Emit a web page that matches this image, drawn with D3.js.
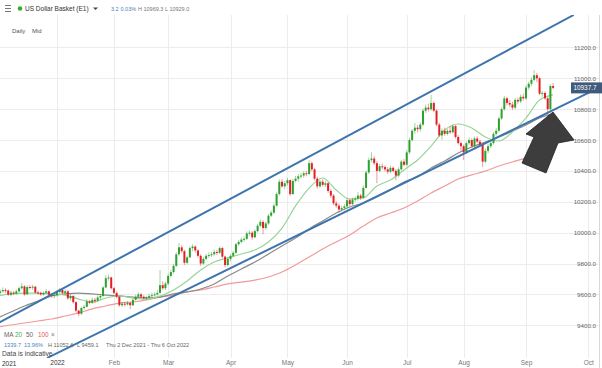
<!DOCTYPE html>
<html>
<head>
<meta charset="utf-8">
<script src="https://d3js.org/d3.v7.min.js"></script>
<style>
body { margin: 0; background: #fff; }
svg { display: block; font-family: "Liberation Sans", Arial, sans-serif; }
</style>
</head>
<body>
<div id="chart"></div>
<script>
// Daily candles, one per weekday starting Thu 2 Dec 2021 (index 0)
// open of each candle = previous close
var firstOpen = 9598;

var closes = [
  9610, 9620, 9628, 9625, 9598, 9612, 9605, 9620, 9640, 9652,
  9600, 9648, 9645, 9650, 9612, 9610, 9600, 9610, 9620, 9598,
  9590, 9595, 9615, 9630, 9610, 9620, 9575, 9590, 9550, 9495,
  9475, 9512, 9520, 9555, 9545, 9565, 9560, 9580, 9590, 9645,
  9705, 9710, 9640, 9610, 9585, 9530, 9540, 9535, 9545, 9530,
  9565, 9585, 9600, 9585, 9575, 9580, 9590, 9595, 9600, 9610,
  9660, 9640, 9670, 9720, 9745, 9785, 9860, 9905, 9880, 9805,
  9840, 9900, 9910, 9885, 9850, 9800, 9830, 9850, 9855, 9860,
  9875, 9870, 9900, 9845, 9790, 9830, 9850, 9870, 9925, 9940,
  9955, 9960, 9995, 10000, 9970, 10010, 10045, 10070, 10030, 10060,
  10110, 10130, 10175, 10250, 10330, 10300, 10320, 10340, 10250, 10335,
  10350, 10365, 10370, 10385, 10380, 10450, 10410, 10350, 10300, 10330,
  10310, 10320, 10270, 10240, 10190, 10175, 10150, 10160, 10170, 10210,
  10185, 10215, 10220, 10240, 10225, 10290, 10390, 10470, 10480, 10450,
  10400, 10430, 10425, 10410, 10395, 10420, 10400, 10370, 10410, 10460,
  10440, 10520, 10600, 10660, 10680, 10670, 10700, 10790, 10810, 10800,
  10840, 10790, 10700, 10630, 10660, 10640, 10660, 10650, 10690, 10620,
  10580, 10560, 10520, 10580, 10600, 10560, 10610, 10590, 10570, 10460,
  10530, 10560, 10580, 10640, 10660, 10740, 10800, 10870, 10840, 10830,
  10810, 10860, 10850, 10880, 10870, 10940, 10965, 10990, 11020, 11000,
  10900, 10905, 10870, 10800, 10950, 10937.7
];

var highs = [
  9628, 9635, 9645, 9640, 9632, 9625, 9622, 9632, 9650, 9674,
  9660, 9658, 9660, 9662, 9655, 9625, 9618, 9620, 9635, 9625,
  9605, 9610, 9628, 9642, 9640, 9632, 9628, 9605, 9595, 9555,
  9500, 9520, 9532, 9570, 9565, 9580, 9578, 9595, 9605, 9655,
  9725, 9728, 9715, 9648, 9620, 9590, 9552, 9550, 9558, 9552,
  9575, 9598, 9615, 9610, 9595, 9592, 9605, 9612, 9615, 9628,
  9758, 9685, 9682, 9735, 9760, 9798, 9872, 9933, 9918, 9890,
  9852, 9912, 9925, 9918, 9892, 9860, 9842, 9862, 9872, 9875,
  9890, 9888, 9912, 9908, 9852, 9842, 9862, 9882, 9935, 9952,
  9968, 9975, 10008, 10015, 10010, 10022, 10058, 10085, 10080, 10072,
  10122, 10145, 10188, 10262, 10345, 10348, 10335, 10355, 10345, 10348,
  10368, 10380, 10388, 10398, 10400, 10470, 10462, 10420, 10362, 10342,
  10345, 10335, 10328, 10282, 10250, 10205, 10190, 10175, 10185, 10225,
  10222, 10228, 10235, 10262, 10252, 10305, 10402, 10485, 10520, 10495,
  10462, 10445, 10448, 10438, 10425, 10435, 10430, 10412, 10422, 10472,
  10478, 10535, 10615, 10672, 10710, 10698, 10715, 10805, 10830, 10835,
  10892, 10850, 10800, 10712, 10675, 10680, 10672, 10690, 10702, 10698,
  10632, 10590, 10570, 10592, 10618, 10612, 10622, 10625, 10602, 10580,
  10545, 10575, 10598, 10652, 10678, 10752, 10812, 10885, 10880, 10858,
  10848, 10872, 10875, 10895, 10900, 10955, 10978, 11005, 11052.6, 11035,
  11010, 10920, 10915, 10880, 10962, 10969.3
];

var lows = [
  9590, 9600, 9612, 9610, 9588, 9590, 9595, 9598, 9612, 9632,
  9592, 9598, 9632, 9630, 9605, 9600, 9592, 9592, 9602, 9590,
  9578, 9575, 9585, 9605, 9600, 9598, 9565, 9560, 9540, 9485,
  9459.1, 9468, 9500, 9515, 9535, 9538, 9545, 9550, 9565, 9585,
  9640, 9690, 9632, 9600, 9575, 9520, 9518, 9522, 9528, 9505,
  9525, 9560, 9578, 9575, 9568, 9565, 9572, 9580, 9585, 9592,
  9605, 9630, 9628, 9660, 9710, 9735, 9778, 9850, 9868, 9790,
  9795, 9835, 9880, 9870, 9838, 9785, 9792, 9820, 9838, 9842,
  9850, 9855, 9862, 9835, 9775, 9780, 9815, 9840, 9862, 9915,
  9930, 9942, 9952, 9982, 9955, 9965, 10000, 10035, 9990, 10020,
  10050, 10100, 10120, 10168, 10240, 10290, 10280, 10305, 10238, 10245,
  10325, 10330, 10350, 10355, 10365, 10372, 10398, 10338, 10285, 10290,
  10298, 10295, 10258, 10225, 10178, 10160, 10130, 10138, 10145, 10160,
  10172, 10178, 10200, 10208, 10212, 10220, 10285, 10380, 10455, 10438,
  10320, 10390, 10410, 10398, 10380, 10385, 10390, 10340, 10358, 10400,
  10430, 10432, 10510, 10590, 10640, 10650, 10655, 10690, 10775, 10785,
  10790, 10780, 10688, 10620, 10600, 10628, 10630, 10640, 10642, 10608,
  10570, 10530, 10471, 10510, 10570, 10550, 10548, 10580, 10555, 10425,
  10450, 10515, 10548, 10570, 10628, 10650, 10730, 10790, 10825, 10812,
  10795, 10800, 10835, 10840, 10855, 10860, 10925, 10948, 10980, 10975,
  10890, 10880, 10860, 10762, 10790, 10929.0
];

// Moving averages every 5 candles
var maIdx = [0, 5, 10, 15, 20, 25, 30, 35, 40, 45, 50, 55, 60, 65, 70, 75, 80, 85, 90, 95,
  100, 105, 110, 115, 120, 125, 130, 135, 140, 145, 150, 155, 160, 165, 170, 175, 180, 185, 190, 195,
  200, 205];
var ma20 = [9590, 9603, 9609, 9609, 9603, 9596, 9570, 9551, 9577, 9590, 9577, 9570, 9590, 9629,
  9687, 9758, 9810, 9836, 9862, 9888, 9940, 10030, 10173, 10289, 10354, 10276, 10218, 10225,
  10302, 10341, 10406, 10471, 10561, 10665, 10704, 10678, 10620, 10594, 10652, 10743, 10859, 10892];
var ma50 = [9447, 9486, 9525, 9557, 9590, 9603, 9609, 9603, 9596, 9590, 9583, 9577, 9583, 9603,
  9616, 9635, 9668, 9719, 9765, 9810, 9862, 9914, 9965, 10024, 10076, 10127, 10166, 10192,
  10231, 10276, 10328, 10361, 10419, 10464, 10516, 10555, 10587, 10620, 10658, 10697, 10743, 10769];
var ma100 = [9389, 9402, 9415, 9428, 9441, 9460, 9480, 9506, 9525, 9544, 9551, 9564, 9583, 9596,
  9616, 9629, 9648, 9668, 9680, 9693, 9713, 9745, 9791, 9842, 9894, 9940, 9985, 10043,
  10095, 10127, 10160, 10205, 10257, 10302, 10348, 10374, 10399, 10432, 10458, 10484, 10516, 10535];

// Channel lines drawn on the chart: [candle index, price]
var upperChannel = [[0, 9411], [212.6, 11410]];
var lowerChannel = [[18.3, 9188], [222, 10940]];

// Axis ticks
var yTicks = [9400, 9600, 9800, 10000, 10200, 10400, 10600, 10800, 11000, 11200];
var monthIdx = [22, 43, 63, 86, 107, 129, 151, 172, 195, 218];
var monthLabels = ["2022", "Feb", "Mar", "Apr", "May", "Jun", "Jul", "Aug", "Sep", "Oct"];
var lastPrice = 10937.7;

// Chart area
var svgWidth = 602;
var svgHeight = 368;
var plotTop = 15;
var plotBottom = 358;
var plotRight = 599;

var upColor = "#2ea02e";
var downColor = "#e21f26";

var svg = d3.select("#chart")
  .append("svg")
  .attr("width", svgWidth)
  .attr("height", svgHeight);

svg.append("defs").append("clipPath")
  .attr("id", "plotclip")
  .append("rect")
  .attr("x", 0)
  .attr("y", plotTop)
  .attr("width", plotRight)
  .attr("height", plotBottom - plotTop);

var xScale = d3.scaleLinear()
  .domain([0, 220])
  .range([-2.64, -2.64 + 220 * 2.711]);

var yScale = d3.scaleLinear()
  .domain([9400, 11200])
  .range([325.3, 47.4]);

// Grid lines
var grid = svg.append("g");
grid.selectAll(".hgrid")
  .data(yTicks).enter()
  .append("line")
  .attr("x1", 0)
  .attr("x2", plotRight)
  .attr("y1", d => Math.round(yScale(d)) + 0.5)
  .attr("y2", d => Math.round(yScale(d)) + 0.5)
  .attr("stroke", "#ececec");

grid.selectAll(".vgrid")
  .data(monthIdx).enter()
  .append("line")
  .attr("x1", d => Math.round(xScale(d)) + 0.5)
  .attr("x2", d => Math.round(xScale(d)) + 0.5)
  .attr("y1", plotTop)
  .attr("y2", plotBottom)
  .attr("stroke", "#ececec");

// right border
svg.append("line")
  .attr("x1", plotRight + 0.5).attr("x2", plotRight + 0.5)
  .attr("y1", plotTop).attr("y2", svgHeight)
  .attr("stroke", "#d8d8d8");

var plot = svg.append("g").attr("clip-path", "url(#plotclip)");

// Moving averages
var maLine = d3.line()
  .x(d => xScale(d[0]))
  .y(d => yScale(d[1]))
  .curve(d3.curveMonotoneX);

function drawMA(values, color, width) {
  plot.append("path")
    .datum(maIdx.map((d, i) => [d, values[i]]))
    .attr("d", maLine)
    .attr("fill", "none")
    .attr("stroke", color)
    .attr("stroke-width", width);
}
drawMA(ma100, "#f19a9a", 1.2);
drawMA(ma50, "#8a8a8a", 1.2);
drawMA(ma20, "#98d498", 1.2);

// Candles
var data = closes.map(function(c, i) {
  return {
    i: i,
    open: i === 0 ? firstOpen : closes[i - 1],
    high: highs[i],
    low: lows[i],
    close: c
  };
});

var candle = plot.selectAll(".candle")
  .data(data).enter()
  .append("g");

candle.append("line")
  .attr("x1", d => xScale(d.i))
  .attr("x2", d => xScale(d.i))
  .attr("y1", d => yScale(d.high))
  .attr("y2", d => yScale(d.low))
  .attr("stroke", d => d.close >= d.open ? upColor : downColor)
  .attr("stroke-opacity", 0.45)
  .attr("stroke-width", 1);

candle.append("rect")
  .attr("x", d => xScale(d.i) - 1)
  .attr("width", 2)
  .attr("y", d => yScale(Math.max(d.open, d.close)))
  .attr("height", d => Math.max(1, Math.abs(yScale(d.open) - yScale(d.close))))
  .attr("fill", d => d.close >= d.open ? upColor : downColor);

// Channel lines
var chanLine = d3.line()
  .x(d => xScale(d[0]))
  .y(d => yScale(d[1]));

[upperChannel, lowerChannel].forEach(function(c) {
  plot.append("path")
    .datum(c)
    .attr("d", chanLine)
    .attr("fill", "none")
    .attr("stroke", "#3e74ad")
    .attr("stroke-width", 2);
});

// Arrow annotation
svg.append("path")
  .attr("d", "M553,112 L574,140 L558,143 L546,173 L522,163 L534,137 L526,134 Z")
  .attr("fill", "#3d3d3d")
  .attr("stroke", "#222")
  .attr("stroke-width", 0.8);

// Y axis labels
var yAxis = d3.axisLeft(yScale)
  .tickValues(yTicks)
  .tickSize(0)
  .tickPadding(0)
  .tickFormat(d3.format(".1f"));

var yG = svg.append("g")
  .attr("transform", "translate(596,0)")
  .call(yAxis);
yG.select(".domain").remove();
yG.selectAll("text")
  .attr("fill", "#666")
  .style("font-size", "6.2px")
  .style("font-family", "Liberation Sans, Arial, sans-serif");

// last price box
svg.append("rect")
  .attr("x", 571)
  .attr("y", yScale(lastPrice) - 5.5)
  .attr("width", 31)
  .attr("height", 11)
  .attr("fill", "#3f5a7c");
svg.append("text")
  .attr("x", 585)
  .attr("y", yScale(lastPrice) + 2.2)
  .attr("text-anchor", "middle")
  .attr("fill", "#fff")
  .style("font-size", "6.4px")
  .text(d3.format(".1f")(lastPrice));

// X axis labels
var xAxis = d3.axisBottom(xScale)
  .tickValues(monthIdx)
  .tickSize(0)
  .tickPadding(2)
  .tickFormat((d, i) => monthLabels[i]);

var xG = svg.append("g")
  .attr("transform", `translate(0, ${plotBottom})`)
  .call(xAxis);
xG.select(".domain").remove();
xG.selectAll("text")
  .attr("fill", (d, i) => i === 0 ? "#333" : "#777")
  .style("font-size", "6.5px")
  .style("font-family", "Liberation Sans, Arial, sans-serif");

svg.append("text")
  .attr("x", 2)
  .attr("y", 365.5)
  .attr("fill", "#333")
  .style("font-size", "6.5px")
  .text("2021");

// Header
var header = svg.append("g");
[5, 8, 11].forEach(function(yy) {
  header.append("line")
    .attr("x1", 5).attr("x2", 11)
    .attr("y1", yy + 0.5).attr("y2", yy + 0.5)
    .attr("stroke", "#777");
});
header.append("circle")
  .attr("cx", 20).attr("cy", 8.5).attr("r", 2.3)
  .attr("fill", "#2fb12f");
header.append("text")
  .attr("x", 25).attr("y", 11)
  .attr("fill", "#333")
  .style("font-size", "6.5px")
  .text("US Dollar Basket (E1)");
header.append("path")
  .attr("d", "M93,7.5 L98,7.5 L95.5,10 Z")
  .attr("fill", "#444");

var quoteParts = [
  { x: 111, text: "3.2", color: "#4a7fbf" },
  { x: 120.5, text: "0.03%", color: "#4a7fbf" },
  { x: 138, text: "H 10969.3", color: "#777" },
  { x: 165, text: "L 10929.0", color: "#777" }
];
header.selectAll(".quote")
  .data(quoteParts).enter()
  .append("text")
  .attr("x", d => d.x).attr("y", 11)
  .attr("fill", d => d.color)
  .style("font-size", "5.5px")
  .text(d => d.text);

svg.append("text").attr("x", 12).attr("y", 33)
  .attr("fill", "#555").style("font-size", "6px").text("Daily");
svg.append("text").attr("x", 32).attr("y", 33)
  .attr("fill", "#555").style("font-size", "6px").text("Mid");

// Legend bottom left
var legParts = [
  { x: 4, text: "MA", color: "#666" },
  { x: 15, text: "20", color: "#3cae3c" },
  { x: 26, text: "50", color: "#666" },
  { x: 38, text: "100", color: "#e55a5a" },
  { x: 51, text: "×", color: "#777" }
];
svg.selectAll(".leg")
  .data(legParts).enter()
  .append("text")
  .attr("x", d => d.x).attr("y", 337)
  .attr("fill", d => d.color)
  .style("font-size", "6.4px")
  .text(d => d.text);

var statParts = [
  { x: 4, text: "1339.7", color: "#4a7fbf" },
  { x: 24, text: "13.96%", color: "#4a7fbf" },
  { x: 48, text: "H 11052.6", color: "#666" },
  { x: 77, text: "L 9459.1", color: "#666" },
  { x: 106, text: "Thu 2 Dec 2021 - Thu 6 Oct 2022", color: "#666" }
];
svg.selectAll(".stat")
  .data(statParts).enter()
  .append("text")
  .attr("x", d => d.x).attr("y", 347)
  .attr("fill", d => d.color)
  .style("font-size", "5.6px")
  .text(d => d.text);

svg.append("text")
  .attr("x", 2).attr("y", 355.5)
  .attr("fill", "#444")
  .style("font-size", "6.7px")
  .text("Data is indicative");
</script>
</body>
</html>
